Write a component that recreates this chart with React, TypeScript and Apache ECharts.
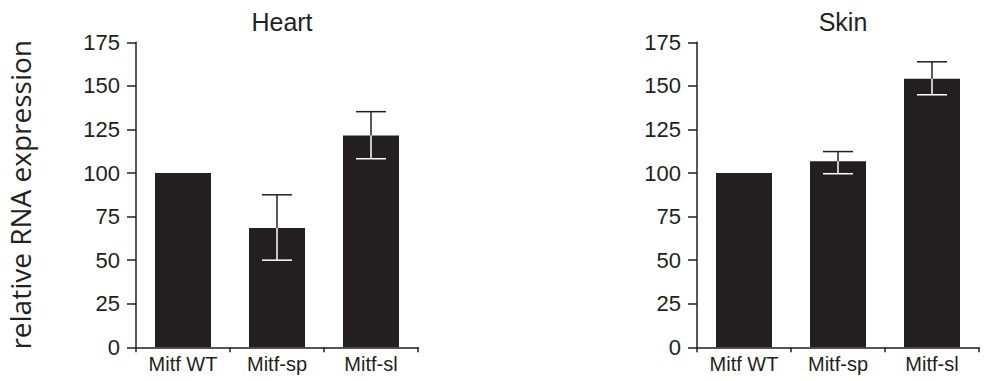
import React, { useEffect, useRef } from "react";
import * as echarts from "echarts";

const categories = ["Mitf WT", "Mitf-sp", "Mitf-sl"];
const yTicks = [0, 25, 50, 75, 100, 125, 150, 175];

const heartValues = [100, 68.5, 121.5];
const heartLow = [100, 50, 108.2];
const heartHigh = [100, 87.5, 135.2];

const skinValues = [100, 106.7, 154.1];
const skinLow = [100, 99.6, 144.9];
const skinHigh = [100, 112.3, 163.8];

const panelTitles = ["Heart", "Skin"];
const yAxisTitle = "relative RNA expression";

const DARK = "#231f20";
const FONT = "'Liberation Sans', Arial, sans-serif";

function errData(vals: number[], lo: number[], hi: number[]) {
  return vals.map((v, i) => [i, v, lo[i], hi[i]]);
}

function renderErr(params: any, api: any) {
  const idx = api.value(0);
  const v = api.value(1);
  const lo = api.value(2);
  const hi = api.value(3);
  if (lo === hi) return { type: "group", children: [] };
  const pv = api.coord([idx, v]);
  const pl = api.coord([idx, lo]);
  const ph = api.coord([idx, hi]);
  const x = pv[0];
  const hw = 15;
  const children: any[] = [];
  children.push({
    type: "line",
    shape: { x1: x, y1: pv[1], x2: x, y2: ph[1] },
    style: { stroke: DARK, lineWidth: 1.5 },
  });
  children.push({
    type: "line",
    shape: { x1: x - hw, y1: ph[1], x2: x + hw, y2: ph[1] },
    style: { stroke: DARK, lineWidth: 1.5 },
  });
  children.push({
    type: "line",
    shape: { x1: x, y1: pl[1], x2: x, y2: pv[1] },
    style: { stroke: "#ffffff", lineWidth: 1.5 },
  });
  children.push({
    type: "line",
    shape: { x1: x - hw, y1: pl[1], x2: x + hw, y2: pl[1] },
    style: { stroke: "#ffffff", lineWidth: 1.5 },
  });
  return { type: "group", children };
}

export default function App() {
  const ref = useRef<HTMLDivElement>(null);
  useEffect(() => {
    if (!ref.current) return;
    const chart = echarts.init(ref.current, undefined, { renderer: "svg" });
    const grids = [
      { left: 136, top: 42.3, width: 282, height: 305 },
      { left: 697, top: 42.3, width: 282, height: 305 },
    ];
    const xAxis = grids.map((_, gi) => ({
      type: "category" as const,
      gridIndex: gi,
      data: categories,
      boundaryGap: true,
      axisLine: { show: true, lineStyle: { color: DARK, width: 1.5 } },
      axisTick: { show: true, length: 5, alignWithLabel: false, lineStyle: { color: DARK, width: 1.5 } },
      axisLabel: { color: "#231f20", fontSize: 20, fontFamily: FONT, margin: 7, interval: 0 },
    }));
    const yAxis = grids.map((_, gi) => ({
      type: "value" as const,
      gridIndex: gi,
      min: 0,
      max: 175,
      interval: 25,
      splitLine: { show: false },
      axisLine: { show: true, lineStyle: { color: DARK, width: 1.5 } },
      axisTick: { show: true, length: 9, lineStyle: { color: DARK, width: 1.5 } },
      axisLabel: {
        color: "#231f20",
        fontSize: 22,
        fontFamily: FONT,
        margin: 16,
        formatter: (v: number) => (yTicks.includes(v) ? String(v) : ""),
      },
      name: gi === 0 ? yAxisTitle : "",
      nameLocation: "middle" as const,
      nameRotate: 90,
      nameGap: 102,
      nameTextStyle: { fontSize: 28, fontFamily: "'Open Sans', sans-serif", color: DARK },
    }));
    const option: any = {
      animation: false,
      backgroundColor: "#ffffff",
      title: panelTitles.map((t, i) => ({
        text: t,
        left: grids[i].left + grids[i].width / 2,
        top: 4,
        textAlign: "center",
        textStyle: { fontSize: 25, fontWeight: "normal", fontFamily: FONT, color: DARK },
      })),
      grid: grids,
      xAxis,
      yAxis,
      series: [
        {
          type: "bar",
          xAxisIndex: 0,
          yAxisIndex: 0,
          data: heartValues,
          barWidth: 56,
          itemStyle: { color: DARK },
        },
        {
          type: "custom",
          xAxisIndex: 0,
          yAxisIndex: 0,
          data: errData(heartValues, heartLow, heartHigh),
          encode: { x: 0, y: [1, 2, 3] },
          renderItem: renderErr,
          z: 5,
        },
        {
          type: "bar",
          xAxisIndex: 1,
          yAxisIndex: 1,
          data: skinValues,
          barWidth: 56,
          itemStyle: { color: DARK },
        },
        {
          type: "custom",
          xAxisIndex: 1,
          yAxisIndex: 1,
          data: errData(skinValues, skinLow, skinHigh),
          encode: { x: 0, y: [1, 2, 3] },
          renderItem: renderErr,
          z: 5,
        },
      ],
    };
    chart.setOption(option);
    return () => chart.dispose();
  }, []);
  return (
    <div
      ref={ref}
      style={{ position: "fixed", left: 0, top: 0, width: 986, height: 381 }}
    />
  );
}
